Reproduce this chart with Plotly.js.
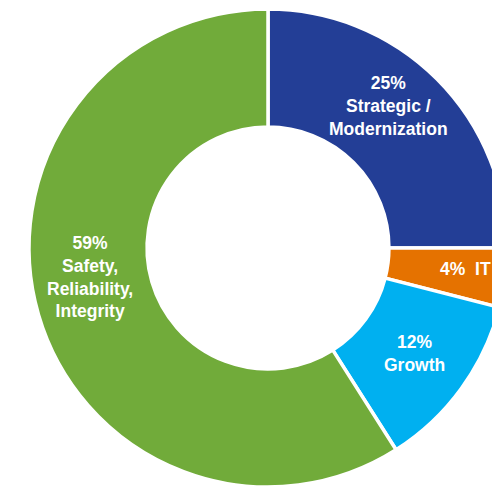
<!DOCTYPE html>
<html>
<head>
<meta charset="utf-8">
<script src="https://cdn.plot.ly/plotly-3.0.1.min.js"></script>
<style>
html, body { margin: 0; padding: 0; overflow: hidden; background: #ffffff; }
#chart { width: 560px; height: 500px; }
</style>
</head>
<body>
<div id="chart"></div>
<script>
var categories = ['Strategic /<br>Modernization', 'IT', 'Growth', 'Safety,<br>Reliability,<br>Integrity'];
var values = [25, 4, 12, 59];
var percentLabels = ['25%', '4%', '12%', '59%'];
var joiners = ['<br>', '\u00a0\u00a0', '<br>', '<br>'];
var colors = ['#233E96', '#E57200', '#00B0F0', '#71AB3A'];

var texts = categories.map(function (c, i) { return percentLabels[i] + joiners[i] + c; });

// figure geometry (px)
var W = 560, H = 500, cx = 268, cyTop = 248, R = 239;
var cyBottom = H - cyTop;

// label anchor points in page pixels (layout only)
var labelPx = [[388, 106], [465, 269], [414, 353], [90, 277]];

var trace = {
  type: 'pie',
  labels: categories,
  values: values,
  textinfo: 'none',
  sort: false,
  direction: 'clockwise',
  rotation: 0,
  hole: 0.506,
  marker: { colors: colors, line: { color: '#ffffff', width: 3.5 } },
  domain: { x: [(cx - R) / W, (cx + R) / W], y: [(cyBottom - R) / H, (cyBottom + R) / H] },
  hoverinfo: 'none'
};

var annotations = texts.map(function (t, i) {
  return {
    xref: 'paper', yref: 'paper',
    x: labelPx[i][0] / W, y: 1 - labelPx[i][1] / H,
    xanchor: 'center', yanchor: 'middle', align: 'center',
    text: t, showarrow: false,
    font: { family: 'Liberation Sans, Arial, sans-serif', size: 17.5, color: '#ffffff', weight: 'bold' }
  };
});

var layout = {
  width: W,
  height: H,
  margin: { l: 0, r: 0, t: 0, b: 0, pad: 0 },
  showlegend: false,
  paper_bgcolor: '#ffffff',
  plot_bgcolor: '#ffffff',
  annotations: annotations
};

Plotly.newPlot('chart', [trace], layout, { displayModeBar: false, staticPlot: true });
</script>
</body>
</html>
